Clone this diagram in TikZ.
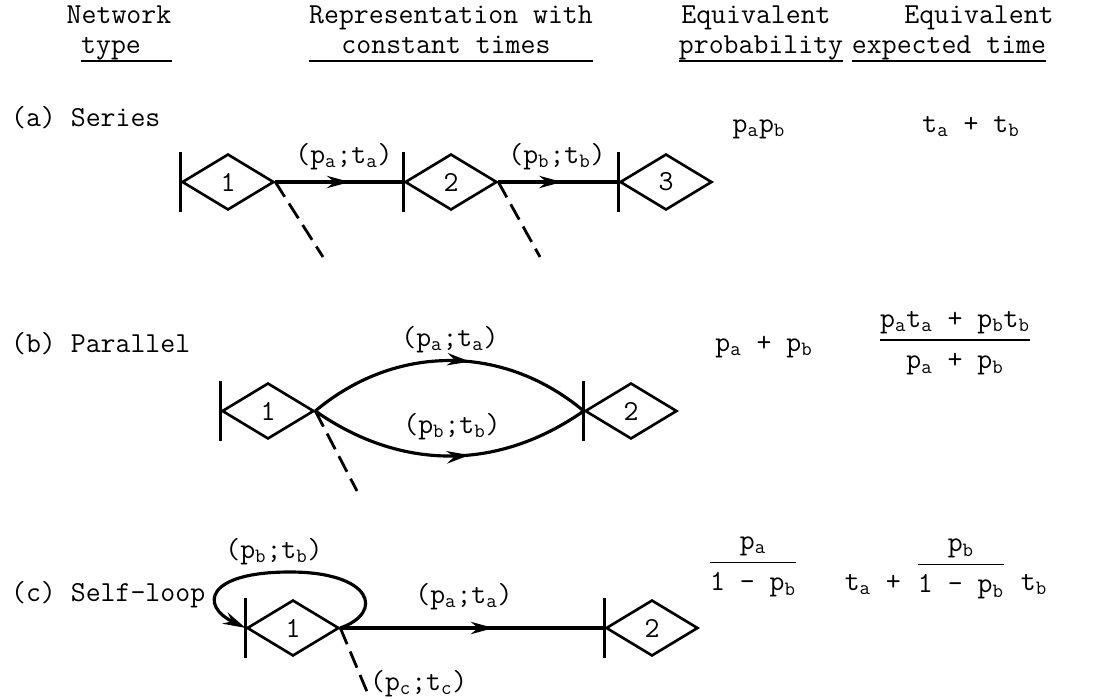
\documentclass[tikz,border=0pt]{standalone}
\usepackage{amsmath}
\usepackage{fontspec}
\usepackage{tikz}
\usetikzlibrary{arrows.meta, shapes.geometric, decorations.markings}

\newcommand\Pv[1]{p\textsubscript{#1}}
\newcommand\Tv[1]{t\textsubscript{#1}}
\newcommand\fr[2]{$\displaystyle\genfrac{}{}{1pt}{0}{\text{#1}}{\text{#2}}$}

\begin{document}
\begin{tikzpicture}[
    x=0.02cm, y=0.02cm,
    every node/.style={font=\ttfamily\fontsize{16.5}{19}\selectfont, inner sep=1pt},
    head/.style={anchor=base, inner sep=0pt},
    state/.style={diamond, draw, line width=1.5pt, minimum width=1.84cm, minimum height=1.12cm, inner sep=0pt},
    bar/.style={line width=1.5pt},
    arrow/.style={line width=1.8pt, postaction={decorate},
        decoration={markings, mark=at position #1 with {\arrow{Stealth[length=13pt,width=7pt]}}}},
    arrow/.default=0.58,
    exit/.style={line width=1.6pt, dash pattern=on 10pt off 4.5pt},
    uline/.style={line width=1.1pt}
]
    \useasboundingbox (0,0) rectangle (1093,698);

    \node[head] (hNet) at (119,674) {Network};
    \node[head] (hType) at (111,644) {type};
    \node[head] (hRep) at (451,674) {Representation with};
    \node[head] (hConst) at (446,644) {constant times};
    \node[head] (hProbA) at (756,674) {Equivalent};
    \node[head] (hProb) at (761,644) {probability};
    \node[head] (hTimeA) at (979,674) {Equivalent};
    \node[head] (hTime) at (949,644) {expected time};
    \coordinate (uy) at (0,637);
    \draw[uline] (hType.west |- uy) -- (hNet.east |- uy);
    \draw[uline] (hRep.west |- uy) -- (hRep.east |- uy);
    \draw[uline] (hProb.west |- uy) -- (hProb.east |- uy);
    \draw[uline] (hTime.west |- uy) -- (hTime.east |- uy);

    \node[anchor=base west] (rowA) at (9,572) {(a) Series};
    \node[anchor=base west] (rowB) at (9,346) {(b) Parallel};
    \node[anchor=base west] (rowC) at (9,97) {(c) Self-loop};

    \node[state] (a1) at (228,516) {1};
    \node[state] (a2) at (451,516) {2};
    \node[state] (a3) at (666,516) {3};
    \coordinate (ea1) at (323,441);
    \coordinate (ea2) at (540,441);
    \draw[arrow] (a1.east) -- (a2.west);
    \draw[arrow=0.53] (a2.east) -- (a3.west);
    \draw[exit] (a1.east) -- (ea1);
    \draw[exit] (a2.east) -- (ea2);
    \node[anchor=base] (la1) at (344,535) {(\Pv{a};\Tv{a})};
    \node[anchor=base] (la2) at (557,535) {(\Pv{b};\Tv{b})};
    \node[anchor=base] (pA) at (759,566) {\Pv{a}\Pv{b}};
    \node[anchor=base] (tA) at (971,566) {\Tv{a} + \Tv{b}};

    \node[state] (b1) at (268,287) {1};
    \node[state] (b2) at (631,287) {2};
    \coordinate (eb1) at (357,207);
    \draw[arrow=0.57] (b1.east) to[out=40, in=140] (b2.west);
    \draw[arrow=0.57] (b1.east) to[out=-35, in=-145] (b2.west);
    \draw[exit] (b1.east) -- (eb1);
    \node[anchor=base] (lb1) at (450,352) {(\Pv{a};\Tv{a})};
    \node[anchor=base] (lb2) at (452,265) {(\Pv{b};\Tv{b})};
    \node[anchor=base] (pB) at (764,347) {\Pv{a} + \Pv{b}};
    \node (tB) at (955,355) {\fr{\Pv{a}\Tv{a} + \Pv{b}\Tv{b}}{\Pv{a} + \Pv{b}}};

    \node[state] (c1) at (293,70) {1};
    \node[state] (c2) at (652,70) {2};
    \coordinate (ec1) at (368,4);
    \draw[arrow] (c1.east) -- (c2.west);
    \draw[line width=1.8pt, -{Stealth[length=13pt,width=7pt]}] (c1.east)
        .. controls (385,86) and (372,126) .. (290,126)
        .. controls (205,126) and (200,92) .. (c1.west);
    \draw[exit] (c1.east) -- (ec1);
    \node[anchor=base] (lc1) at (274,140) {(\Pv{b};\Tv{b})};
    \node[anchor=base] (lc2) at (464,95) {(\Pv{a};\Tv{a})};
    \node[anchor=base west] (lc3) at (368,8) {(\Pv{c};\Tv{c})};
    \node (pC) at (753,131) {\fr{\Pv{a}}{1 - \Pv{b}}};
    \node[anchor=base] (tC) at (946,108) {\Tv{a} + \raisebox{0.36cm}{\fr{\Pv{b}}{1 - \Pv{b}}} \Tv{b}};

    \foreach \n in {a1,a2,a3,b1,b2,c1,c2}
        \draw[bar] ([yshift=0.6cm]\n.west) -- ([yshift=-0.6cm]\n.west);
\end{tikzpicture}
\end{document}
